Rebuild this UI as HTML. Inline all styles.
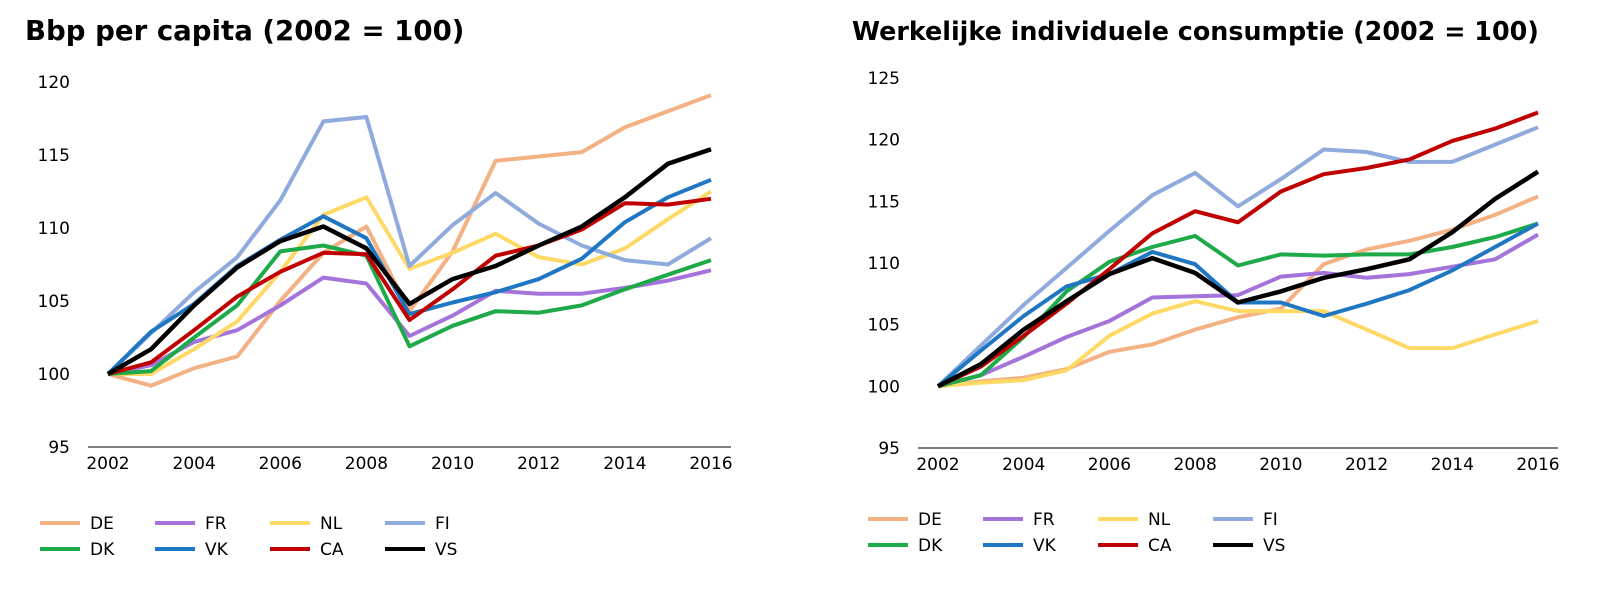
<!DOCTYPE html>
<html><head><meta charset="utf-8"><style>
html,body{margin:0;padding:0;background:#fff;width:1600px;height:594px;overflow:hidden}
svg{display:block}
text{font-family:"DejaVu Sans","Liberation Sans",sans-serif;fill:#000}
</style></head><body>
<svg id="svg" width="1600" height="594">
<text x="25" y="40" font-size="27.6" font-weight="bold">Bbp per capita (2002 = 100)</text>
<text x="852" y="40" font-size="25.4" font-weight="bold">Werkelijke individuele consumptie (2002 = 100)</text>
<g id="left"></g><g id="right"></g>
</svg>
<script>
const years=[2002,2003,2004,2005,2006,2007,2008,2009,2010,2011,2012,2013,2014,2015,2016];
const seriesNames=["DE","FR","NL","FI","DK","VK","CA","VS"];
const leftTicks=[95,100,105,110,115,120];
const rightTicks=[95,100,105,110,115,120,125];
const xTickLabels=[2002,2004,2006,2008,2010,2012,2014,2016];
const gdpDE=[100,99.2,100.4,101.2,105,108.3,110.1,104.3,108.4,114.6,114.9,115.2,116.9,118,119.1];
const gdpFR=[100,100.6,102.2,103,104.7,106.6,106.2,102.6,104,105.7,105.5,105.5,105.9,106.4,107.1];
const gdpNL=[100,100,101.7,103.6,107,110.9,112.1,107.2,108.3,109.6,108,107.5,108.6,110.6,112.5];
const gdpFI=[100,102.8,105.6,108,111.9,117.3,117.6,107.4,110.2,112.4,110.3,108.8,107.8,107.5,109.3];
const gdpDK=[100,100.2,102.5,104.7,108.4,108.8,108.1,101.9,103.3,104.3,104.2,104.7,105.8,106.8,107.8];
const gdpVK=[100,102.9,104.8,107.4,109.2,110.8,109.3,104.1,104.9,105.6,106.5,107.9,110.4,112.1,113.3];
const gdpCA=[100,100.8,103,105.3,107,108.3,108.2,103.7,105.8,108.1,108.8,109.9,111.7,111.6,112];
const gdpVS=[100,101.7,104.7,107.3,109.1,110.1,108.6,104.8,106.5,107.4,108.8,110.1,112.1,114.4,115.4];
const conDE=[100,100.4,100.7,101.4,102.8,103.4,104.6,105.6,106.3,109.9,111.1,111.8,112.7,113.9,115.4];
const conFR=[100,100.9,102.4,104,105.3,107.2,107.3,107.4,108.9,109.2,108.8,109.1,109.7,110.3,112.3];
const conNL=[100,100.3,100.5,101.3,104.1,105.9,106.9,106.1,106.1,106.1,104.6,103.1,103.1,104.2,105.3];
const conFI=[100,103.3,106.6,109.6,112.6,115.5,117.3,114.6,116.8,119.2,119,118.2,118.2,119.6,121];
const conDK=[100,100.9,104,107.7,110.1,111.3,112.2,109.8,110.7,110.6,110.7,110.7,111.3,112.1,113.2];
const conVK=[100,102.9,105.7,108.1,109.1,110.9,109.9,106.8,106.8,105.7,106.7,107.8,109.4,111.3,113.2];
const conCA=[100,101.6,104.1,106.7,109.5,112.4,114.2,113.3,115.8,117.2,117.7,118.4,119.9,120.9,122.2];
const conVS=[100,101.8,104.6,106.9,109.1,110.4,109.2,106.8,107.7,108.8,109.5,110.3,112.5,115.2,117.4];
const colors={DE:"#F4B183",FR:"#A474DA",NL:"#FFD966",FI:"#8FAADC",DK:"#1FAA4A",VK:"#1F77C4",CA:"#C00000",VS:"#000000"};
const NS="http://www.w3.org/2000/svg";
function mk(tag,attrs,parent){const e=document.createElementNS(NS,tag);for(const k in attrs)e.setAttribute(k,attrs[k]);parent.appendChild(e);return e;}
function draw(g,cfg,data,prefix){
  const xs=y=>cfg.x0+(y-years[0])*(cfg.x1-cfg.x0)/(years[years.length-1]-years[0]);
  const ys=v=>cfg.y0-(v-cfg.vmin)*(cfg.y0-cfg.y1)/(cfg.vmax-cfg.vmin);
  const ax=mk('line',{x1:cfg.x0-20,x2:cfg.x1+20,y1:ys(cfg.vmin),y2:ys(cfg.vmin),stroke:'#555','stroke-width':1.5},g);
  
  
  cfg.ticks.forEach(t=>{const e=mk('text',{x:cfg.x0-38,y:ys(t)+6,'font-size':17,'text-anchor':'end'},g);e.textContent=t;
    
    });
  xTickLabels.forEach(t=>{const e=mk('text',{x:xs(t),y:ys(cfg.vmin)+22,'font-size':17,'text-anchor':'middle'},g);e.textContent=t;
    
    });
  seriesNames.forEach((n,i)=>{
    const pts=data[i].map((v,j)=>xs(years[j]).toFixed(1)+','+ys(v).toFixed(1)).join(' ');
    const p=mk('polyline',{points:pts,fill:'none',stroke:colors[n],'stroke-width':n==='VS'?4.5:4,'stroke-linejoin':'round'},g);
    
    
    const col=i%4,row=Math.floor(i/4);
    const lx=cfg.lx+col*115,ly=cfg.ly+row*26;
    const l=mk('line',{x1:lx,x2:lx+40,y1:ly,y2:ly,stroke:colors[n],'stroke-width':4},g);
    
    
    const t=mk('text',{x:lx+50,y:ly+6,'font-size':17},g);t.textContent=n;
    
    
  });
}
draw(document.getElementById('left'),{x0:108,x1:711,y0:447,y1:82,vmin:95,vmax:120,ticks:leftTicks,lx:40,ly:523},
 [gdpDE,gdpFR,gdpNL,gdpFI,gdpDK,gdpVK,gdpCA,gdpVS],'left');
draw(document.getElementById('right'),{x0:938,x1:1538,y0:448,y1:78,vmin:95,vmax:125,ticks:rightTicks,lx:868,ly:519},
 [conDE,conFR,conNL,conFI,conDK,conVK,conCA,conVS],'right');
</script>
</body></html>
